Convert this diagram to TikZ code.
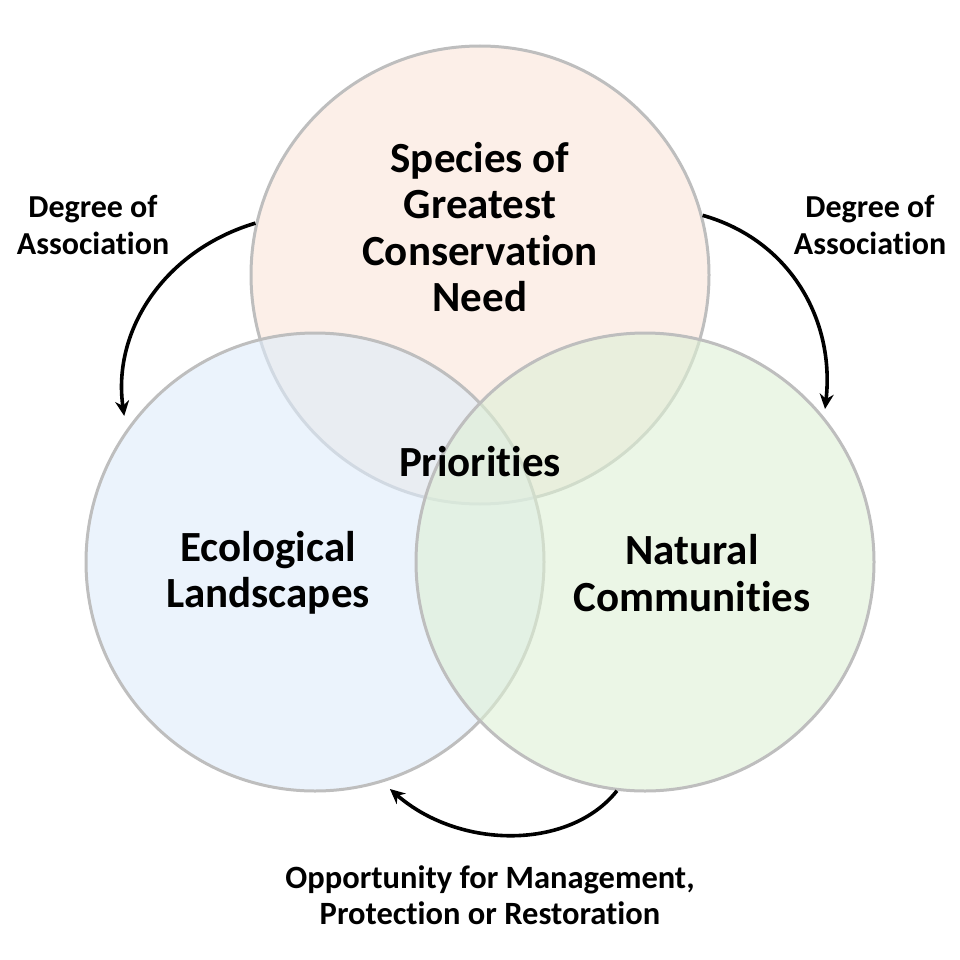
\documentclass[tikz,border=0pt]{standalone}
\usepackage{fontspec}
\setmainfont{Carlito}[Ligatures=NoCommon]
\usepackage{tikz}
\usetikzlibrary{arrows.meta}
\definecolor{sgcnfill}{RGB}{250,228,217}
\definecolor{ecofill}{RGB}{222,235,250}
\definecolor{natfill}{RGB}{222,240,213}
\definecolor{rimgray}{RGB}{190,190,190}

\begin{document}
\begin{tikzpicture}[x=1pt,y=-1pt,
    ring/.style={circle,draw=rimgray,line width=3pt,minimum size=458pt,inner sep=0pt,fill opacity=0.6},
    bigtext/.style={font=\fontsize{43}{46.5}\selectfont\bfseries,align=center},
    smalltext/.style={font=\fontsize{32}{36.5}\selectfont\bfseries,align=center},
    assoc/.style={line width=3.6pt,-{Stealth[length=15pt,width=14pt]}}]
            \useasboundingbox (0,0) rectangle (960,960);
            \node[ring,fill=sgcnfill] (sgcn) at (480,275) {};
            \node[ring,fill=ecofill] (eco) at (315,562) {};
            \node[ring,fill=natfill] (nat) at (645,562) {};
            \node[bigtext] (sgcnlabel) at (480,227) {Species of\\Greatest\\Conservation\\Need};
            \node[bigtext] (ecolabel) at (268,573) {Ecological\\Landscapes};
            \node[bigtext] (natlabel) at (692,573) {Natural\\Communities};
            \node[bigtext] (prio) at (480,462) {Priorities};
            \node[smalltext] (leftassoc) at (93,225) {Degree of\\Association};
            \node[smalltext] (rightassoc) at (870,225) {Degree of\\Association};
            \node[smalltext,font=\fontsize{32.5}{36.5}\selectfont\bfseries] (opport) at (490,895) {Opportunity for Management,\\Protection or Restoration};
            \draw[assoc,shorten >=14pt] (sgcn.167) .. controls (165,250) and (112,330) .. (eco.145);
            \draw[assoc,shorten >=8pt] (sgcn.15) .. controls (790,240) and (835,320) .. (nat.39);
            \draw[assoc,shorten >=10pt] (nat.-97) .. controls (570,850) and (460,850) .. (eco.-73);
        \end{tikzpicture}
\end{document}
